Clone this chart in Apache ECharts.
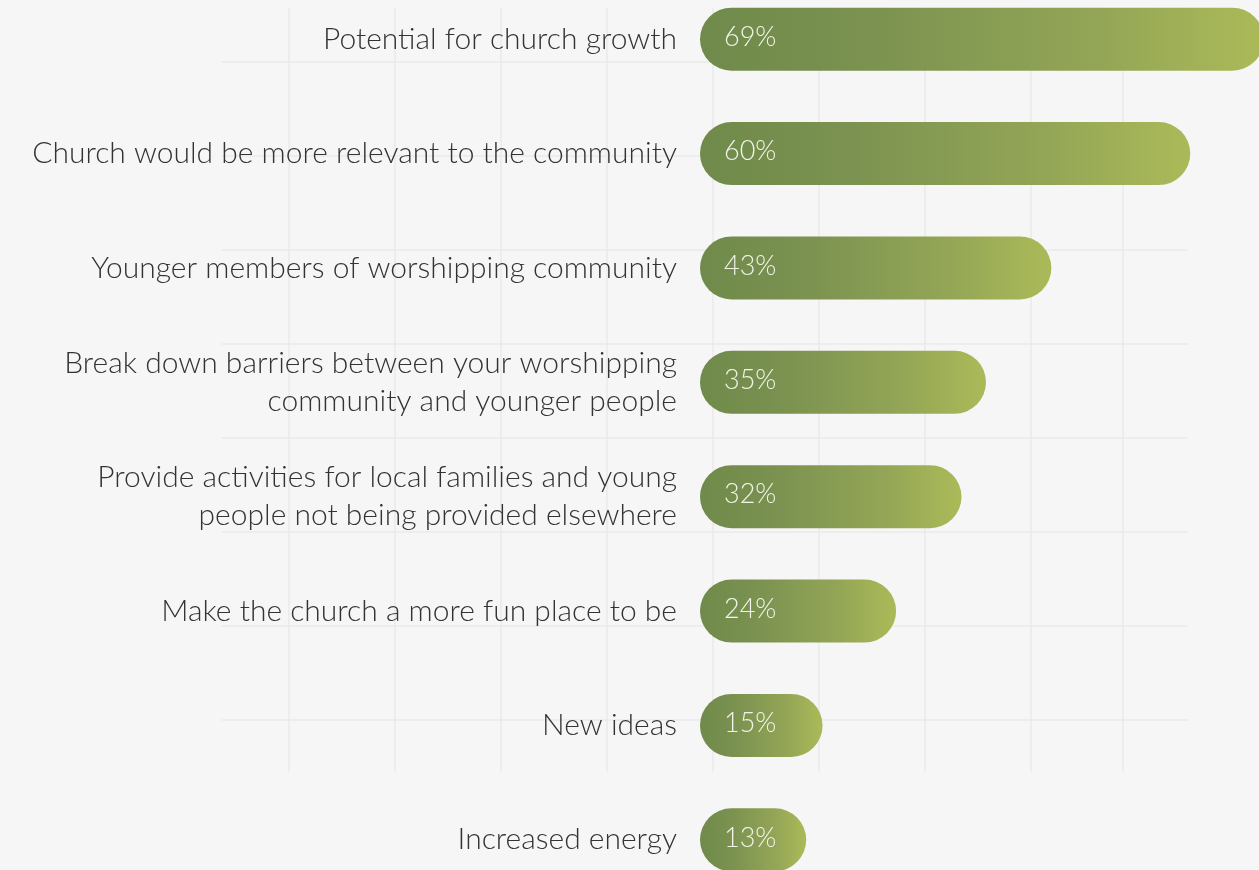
<!DOCTYPE html>
<html>
<head>
<meta charset="utf-8">
<script src="https://cdn.jsdelivr.net/npm/echarts@6/dist/echarts.min.js"></script>
<style>
  html, body { margin: 0; padding: 0; background: #f6f6f6; }
  #chart { width: 1259px; height: 870px; }
</style>
</head>
<body>
<div id="chart"></div>
<script>
// Reasons given for engaging younger people (share of respondents, %)
const categories = [
  'Potential for church growth',
  'Church would be more relevant to the community',
  'Younger members of worshipping community',
  'Break down barriers between your worshipping\ncommunity and younger people',
  'Provide activities for local families and young\npeople not being provided elsewhere',
  'Make the church a more fun place to be',
  'New ideas',
  'Increased energy'
];
const values = [69, 60, 43, 35, 32, 24, 15, 13];

const FONT = 'Lato, "Open Sans", sans-serif';

const chart = echarts.init(document.getElementById('chart'), null, { renderer: 'canvas' });

const barGradient = new echarts.graphic.LinearGradient(0, 0, 1, 0, [
  { offset: 0, color: '#6f8a4b' },
  { offset: 0.3, color: '#7b9250' },
  { offset: 0.7, color: '#93a556' },
  { offset: 1, color: '#abba58' }
]);

const hiddenAxis = {
  axisLine: { show: false }, axisTick: { show: false }, axisLabel: { show: false },
  splitLine: { show: false }
};
const ruleStyle = { color: '#eaeaea', width: 1.5 };

chart.setOption({
  backgroundColor: '#f6f6f6',
  animation: false,
  grid: [
    // backdrop grid: vertical rules
    { left: 289, top: 8, width: 834, height: 764, outerBoundsMode: 'none' },
    // backdrop grid: horizontal rules
    { left: 222, top: 62, width: 966, height: 658, outerBoundsMode: 'none' },
    // bar chart
    { left: 700, top: -18, width: 572, height: 915, outerBoundsMode: 'none' }
  ],
  xAxis: [
    Object.assign({}, hiddenAxis, {
      gridIndex: 0, type: 'value', min: 0, max: 7.87, interval: 1,
      splitLine: { show: true, lineStyle: ruleStyle }
    }),
    Object.assign({}, hiddenAxis, { gridIndex: 1, type: 'value', min: 0, max: 1 }),
    Object.assign({}, hiddenAxis, { gridIndex: 2, type: 'value', min: 0, max: 70 })
  ],
  yAxis: [
    Object.assign({}, hiddenAxis, { gridIndex: 0, type: 'value', min: 0, max: 1 }),
    Object.assign({}, hiddenAxis, {
      gridIndex: 1, type: 'value', min: 0, max: 7, interval: 1,
      splitLine: { show: true, lineStyle: ruleStyle }
    }),
    {
      gridIndex: 2, type: 'category', data: categories, inverse: true,
      axisLine: { show: false }, axisTick: { show: false },
      splitLine: { show: false },
      axisLabel: {
        margin: 23,
        color: '#333333',
        fontFamily: FONT,
        fontWeight: 300,
        fontSize: 30,
        lineHeight: 38
      }
    }
  ],
  series: [
    {
      type: 'bar',
      xAxisIndex: 2,
      yAxisIndex: 2,
      data: values,
      barWidth: 63,
      itemStyle: { color: barGradient, borderRadius: 32 },
      label: {
        show: true,
        position: 'insideLeft',
        distance: 24,
        formatter: '{c}%',
        color: '#f1f3e9',
        fontFamily: FONT,
        fontWeight: 300,
        fontSize: 27,
        offset: [0, -2]
      }
    }
  ]
});
</script>
</body>
</html>
